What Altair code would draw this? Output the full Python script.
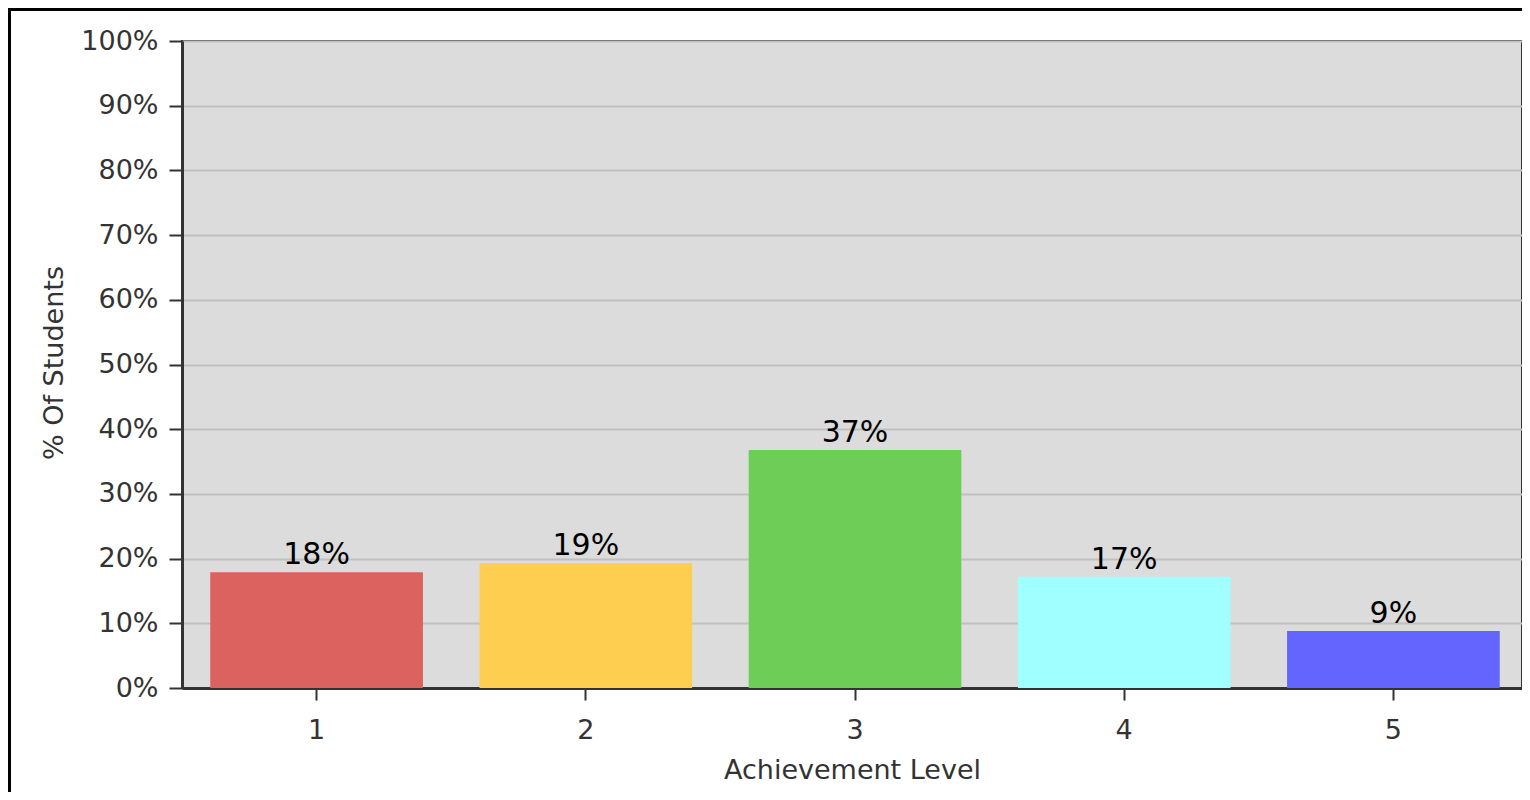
import altair as alt
import pandas as pd

levels = ["1", "2", "3", "4", "5"]
pcts = [17.9, 19.3, 36.8, 17.2, 8.8]
bar_colors = ["#DB625F", "#FDCE50", "#6DCD57", "#A0FFFF", "#6464FF"]
y_ticks = [0, 10, 20, 30, 40, 50, 60, 70, 80, 90, 100]

FONT = "DejaVu Sans"
W, H = 1340, 647
XR = 1346

df = pd.DataFrame({"level": levels, "pct": pcts})
one = pd.DataFrame({"k": [0]})

base = alt.Chart(df).transform_calculate(
    label="format(datum.pct, '.0f') + '%'"
)

x_scale = alt.Scale(paddingInner=0.21, paddingOuter=0.105, range=[0, XR])

x_enc = alt.X(
    "level:N",
    sort=levels,
    scale=x_scale,
    axis=alt.Axis(
        title="Achievement Level",
        labelAngle=0,
        labelFont=FONT, labelFontSize=27, labelColor="#333333", labelPadding=17,
        tickSize=12, tickWidth=2, tickColor="#333333",
        domainColor="#333333", domainWidth=3,
        titleFont=FONT, titleFontSize=27, titleFontWeight="normal", titleColor="#333333",
        titleX=XR / 2 - 3, titleY=82, titleBaseline="middle",
        grid=False,
    ),
)

y_enc = alt.Y(
    "pct:Q",
    scale=alt.Scale(domain=[0, 100], nice=False),
    axis=alt.Axis(
        title="% Of Students",
        values=y_ticks,
        labelExpr="datum.value + '%'",
        labelFont=FONT, labelFontSize=27, labelColor="#333333", labelPadding=11,
        tickSize=13, tickWidth=2, tickColor="#333333",
        domainColor="#333333", domainWidth=3,
        gridColor="#C0C0C0", gridWidth=2,
        titleFont=FONT, titleFontSize=27, titleFontWeight="normal", titleColor="#333333",
        titleX=-128, titleY=H / 2 - 2, titleAlign="center", titleBaseline="middle",
    ),
)

bars = base.mark_bar().encode(
    x=x_enc,
    y=y_enc,
    color=alt.Color("level:N", scale=alt.Scale(domain=levels, range=bar_colors), legend=None),
)

labels = base.mark_text(
    baseline="alphabetic", dy=-8, fontSize=30, font=FONT, color="black"
).encode(
    x=alt.X("level:N", sort=levels),
    y="pct:Q",
    text="label:N",
)

border_left = alt.Chart(one).mark_rect(color="black").encode(
    x=alt.value(-174), x2=alt.value(-171), y=alt.value(-33), y2=alt.value(760)
)
border_top = alt.Chart(one).mark_rect(color="black").encode(
    x=alt.value(-174), x2=alt.value(W + 10), y=alt.value(-33), y2=alt.value(-30)
)

chart = alt.layer(bars, labels, border_left, border_top).properties(
    width=W,
    height=H,
    padding={"left": 174, "top": 33, "right": 0, "bottom": 104},
    autosize=alt.AutoSizeParams(type="none"),
    background="white",
).configure_view(
    fill="#DCDCDC", stroke="#333333", strokeWidth=2
)

chart.save("out.html", embed_options={"renderer": "svg", "actions": False})
